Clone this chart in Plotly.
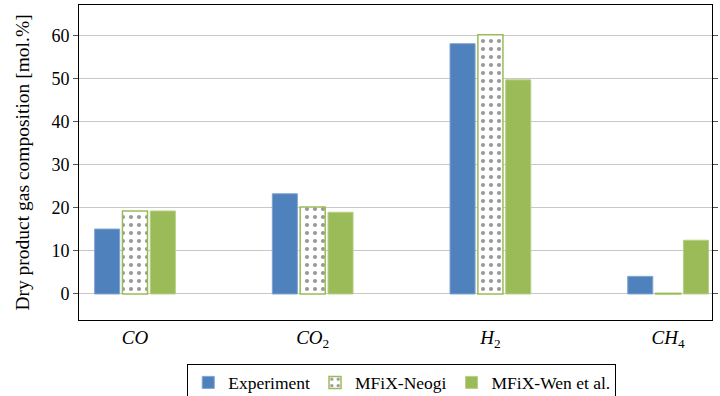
import plotly.graph_objects as go

categories = ["<i>CO</i>", "<i>CO</i><sub>2</sub>", "<i>H</i><sub>2</sub>", "<i>CH</i><sub>4</sub>"]
experiment = [15.1, 23.3, 58.2, 4.1]
neogi = [19.3, 20.2, 60.3, 0.15]
wen = [19.3, 19.0, 49.8, 12.5]

blue = "#4F81BD"
green = "#9BBB59"
serif = "Liberation Serif"

fig = go.Figure()
fig.add_trace(go.Bar(x=categories, y=experiment, name="Experiment",
                     marker=dict(color=blue, line=dict(color="#7fa3d0", width=1))))
fig.add_trace(go.Bar(x=categories, y=neogi, name="MFiX-Neogi",
                     marker=dict(color="white", line=dict(color=green, width=1.5),
                                 pattern=dict(shape=".", fgcolor="#333333", bgcolor="white",
                                              size=8, solidity=0.22))))
fig.add_trace(go.Bar(x=categories, y=wen, name="MFiX-Wen et al.",
                     marker=dict(color=green, line=dict(color="#b5cf85", width=1))))

fig.update_layout(
    width=720, height=396,
    margin=dict(l=79, r=8, t=5, b=76, autoexpand=False),
    paper_bgcolor="white", plot_bgcolor="white",
    barmode="group", bargap=0.53, bargroupgap=0.1,
    font=dict(family=serif, size=18, color="black"),
    showlegend=True,
    legend=dict(orientation="h", xref="container", yref="container",
                x=0.558, xanchor="center", y=0.082, yanchor="top",
                bordercolor="black", borderwidth=1, font=dict(family=serif, size=17.5),
                itemwidth=30, tracegroupgap=0, traceorder="normal"),
    xaxis=dict(range=[-0.315, 3.247], showline=True, linecolor="black", linewidth=1,
               mirror=True, ticks="", tickfont=dict(family=serif, size=19), showgrid=False,
               automargin=False),
    yaxis=dict(range=[-6.05, 67.2], showline=True, linecolor="black", linewidth=1,
               mirror="ticks", ticks="outside", ticklen=5, tickcolor="#555",
               tickvals=[0, 10, 20, 30, 40, 50, 60], showgrid=True,
               gridcolor="#c8c8c8", gridwidth=1, zeroline=False, automargin=False,
               title=dict(text="Dry product gas composition [mol.%]",
                          font=dict(family=serif, size=19.5), standoff=16),
               tickfont=dict(family=serif, size=18)),
)

fig.write_html("out.html", config={"displayModeBar": False},
               post_script="document.body.style.margin='0';")
